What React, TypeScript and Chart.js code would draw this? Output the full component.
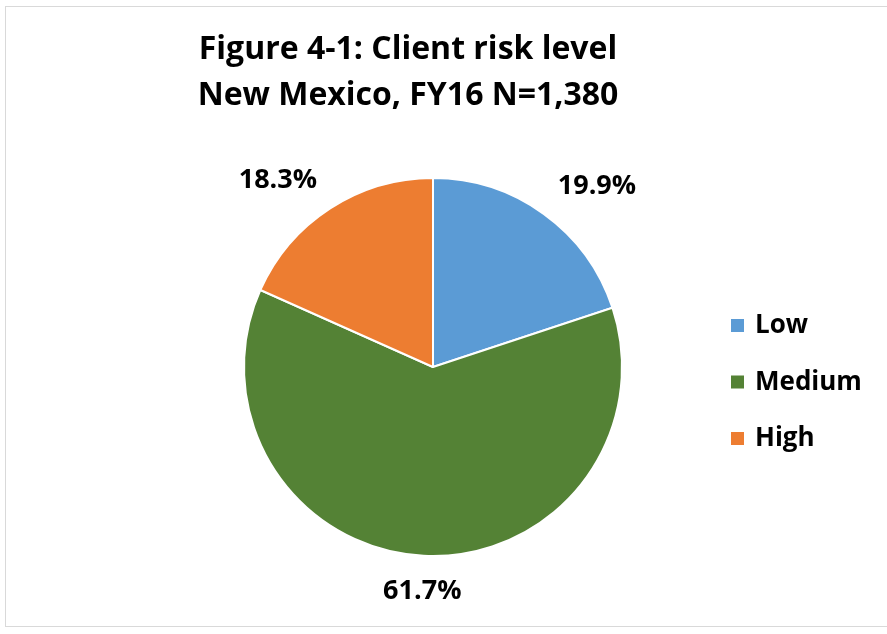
import React, { useEffect, useRef } from "react";
import { Chart, registerables } from "chart.js";

Chart.register(...registerables);

const titleLines = ["Figure 4-1: Client risk level", "New Mexico, FY16 N=1,380"];
const categories = ["Low", "Medium", "High"];
const values = [19.9, 61.7, 18.3];
const valueLabels = ["19.9%", "61.7%", "18.3%"];
const colors = ["#5B9BD5", "#548235", "#ED7D31"];

const FONT = "'Open Sans', Lato, sans-serif";

const overlayPlugin = {
  id: "overlay",
  afterDraw(chart: any) {
    const ctx = chart.ctx;
    const meta = chart.getDatasetMeta(0);
    ctx.save();
    // title
    ctx.fillStyle = "#000";
    ctx.font = `bold 32px ${FONT}`;
    ctx.textAlign = "center";
    ctx.textBaseline = "alphabetic";
    titleLines.forEach((t, i) => ctx.fillText(t, 408, 59 + i * 46));

    // data labels
    const fs = 27;
    ctx.font = `bold ${fs}px ${FONT}`;
    meta.data.forEach((arc: any, i: number) => {
      const { x, y, startAngle, endAngle, outerRadius } = arc.getProps(
        ["x", "y", "startAngle", "endAngle", "outerRadius"],
        true
      );
      const mid = (startAngle + endAngle) / 2;
      const d = outerRadius + 24;
      const px = x + Math.cos(mid) * d;
      const py = y + Math.sin(mid) * d;
      const c = Math.cos(mid);
      const s = Math.sin(mid);
      ctx.textAlign = c > 0.15 ? "left" : c < -0.15 ? "right" : "center";
      ctx.textBaseline = "alphabetic";
      ctx.fillText(valueLabels[i], px, py + (s < 0 ? 0 : fs * 0.72));
    });

    // legend
    ctx.font = `bold 26px ${FONT}`;
    ctx.textAlign = "left";
    ctx.textBaseline = "alphabetic";
    categories.forEach((c, i) => {
      const base = 333 + i * 56.5;
      ctx.fillStyle = colors[i];
      ctx.fillRect(731, base - 14, 13, 13);
      ctx.fillStyle = "#000";
      ctx.fillText(c, 755, base);
    });
    ctx.restore();
  },
};

export default function App() {
  const ref = useRef<HTMLCanvasElement>(null);
  useEffect(() => {
    document.body.style.margin = "0";
    const chart = new Chart(ref.current!, {
      type: "pie",
      data: {
        labels: categories,
        datasets: [
          {
            data: values,
            backgroundColor: colors,
            borderColor: "#ffffff",
            borderWidth: 2,
          },
        ],
      },
      options: {
        animation: false,
        responsive: false,
        layout: { padding: { left: 243, right: 264, top: 177, bottom: 77 } },
        plugins: {
          legend: { display: false },
          title: { display: false },
          tooltip: { enabled: false },
        },
      },
      plugins: [overlayPlugin],
    });
    return () => chart.destroy();
  }, []);
  return (
    <div style={{ position: "relative", width: 887, height: 634, background: "#fff", overflow: "hidden" }}>
      <div
        style={{
          position: "absolute",
          left: 5,
          top: 6,
          width: 900,
          height: 621,
          border: "1px solid #d9d9d9",
          boxSizing: "border-box",
        }}
      />
      <canvas ref={ref} width={887} height={634} style={{ position: "absolute", left: 0, top: 0 }} />
    </div>
  );
}
